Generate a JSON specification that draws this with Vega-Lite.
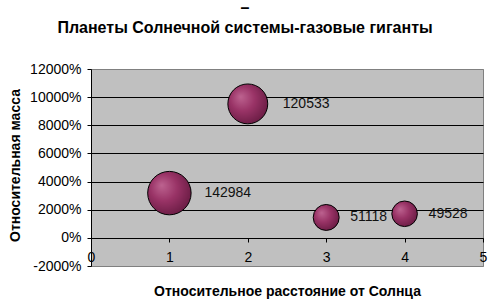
{
  "$schema": "https://vega.github.io/schema/vega-lite/v6.json",
  "width": 392,
  "height": 197,
  "autosize": {"type": "none"},
  "padding": {"left": 91, "top": 69, "right": 14, "bottom": 38},
  "background": "white",
  "title": {
    "text": ["–", "Планеты Солнечной системы-газовые гиганты"],
    "font": "Liberation Sans",
    "fontSize": 16,
    "fontWeight": "bold",
    "color": "black",
    "anchor": "middle",
    "dx": -42,
    "offset": 26,
    "lineHeight": 20
  },
  "data": {
    "values": [
      {"planet": "Юпитер", "distance": 1, "mass": 31.8, "diameter": 142984},
      {"planet": "Сатурн", "distance": 2, "mass": 95.2, "diameter": 120533},
      {"planet": "Уран", "distance": 3, "mass": 14.5, "diameter": 51118},
      {"planet": "Нептун", "distance": 4, "mass": 17.1, "diameter": 49528}
    ]
  },
  "encoding": {
    "x": {
      "field": "distance",
      "type": "quantitative",
      "scale": {"domain": [0, 5], "nice": false, "zero": false},
      "axis": {
        "title": "Относительное расстояние от Солнца",
        "values": [0, 1, 2, 3, 4, 5],
        "format": "d",
        "offset": -28,
        "domainColor": "black",
        "tickColor": "black",
        "tickSize": 4,
        "labelPadding": 8,
        "labelFont": "Liberation Sans",
        "labelFontSize": 14,
        "labelColor": "black",
        "labelFlush": false,
        "grid": false,
        "titleFont": "Liberation Sans",
        "titleFontSize": 14,
        "titleFontWeight": "bold",
        "titleColor": "black",
        "titleX": 196,
        "titleY": 53,
        "titleBaseline": "middle"
      }
    },
    "y": {
      "field": "mass",
      "type": "quantitative",
      "scale": {"domain": [-20, 120], "nice": false, "zero": false},
      "axis": {
        "title": "Относительная масса",
        "values": [-20, 0, 20, 40, 60, 80, 100, 120],
        "labelExpr": "round(datum.value * 100) + '%'",
        "domainColor": "black",
        "tickColor": "black",
        "tickSize": 4,
        "labelPadding": 6,
        "labelFont": "Liberation Sans",
        "labelFontSize": 14,
        "labelColor": "black",
        "labelFlush": false,
        "grid": true,
        "gridColor": {"condition": {"test": "datum.value <= -20 || datum.value >= 120", "value": "#808080"}, "value": "black"},
        "gridOpacity": 1,
        "titleFont": "Liberation Sans",
        "titleFontSize": 14,
        "titleFontWeight": "bold",
        "titleColor": "black",
        "titleX": -76,
        "titleY": 96,
        "titleAngle": -90,
        "titleBaseline": "middle",
        "titleAlign": "center"
      }
    }
  },
  "layer": [
    {
      "mark": {
        "type": "point",
        "shape": "circle",
        "filled": true,
        "opacity": 1,
        "fillOpacity": 1,
        "fill": {
          "gradient": "radial",
          "x1": 0.32, "y1": 0.32, "r1": 0,
          "x2": 0.42, "y2": 0.42, "r2": 0.62,
          "stops": [
            {"offset": 0, "color": "#bd6390"},
            {"offset": 0.5, "color": "#993366"},
            {"offset": 1, "color": "#6a1c44"}
          ]
        },
        "stroke": "black",
        "strokeWidth": 1
      },
      "encoding": {
        "size": {
          "field": "diameter",
          "type": "quantitative",
          "scale": {"type": "linear", "domain": [0, 142984], "range": [0, 1886]},
          "legend": null
        }
      }
    },
    {
      "transform": [{"filter": "datum.diameter > 100000"}],
      "mark": {"type": "text", "align": "left", "baseline": "middle", "dx": 35, "font": "Liberation Sans", "fontSize": 14, "color": "#111111"},
      "encoding": {"text": {"field": "diameter", "type": "quantitative", "format": "d"}}
    },
    {
      "transform": [{"filter": "datum.diameter <= 100000"}],
      "mark": {"type": "text", "align": "left", "baseline": "middle", "dx": 24, "font": "Liberation Sans", "fontSize": 14, "color": "#111111"},
      "encoding": {"text": {"field": "diameter", "type": "quantitative", "format": "d"}}
    }
  ],
  "config": {
    "view": {"fill": "#c0c0c0", "stroke": "#808080", "strokeWidth": 1}
  }
}
